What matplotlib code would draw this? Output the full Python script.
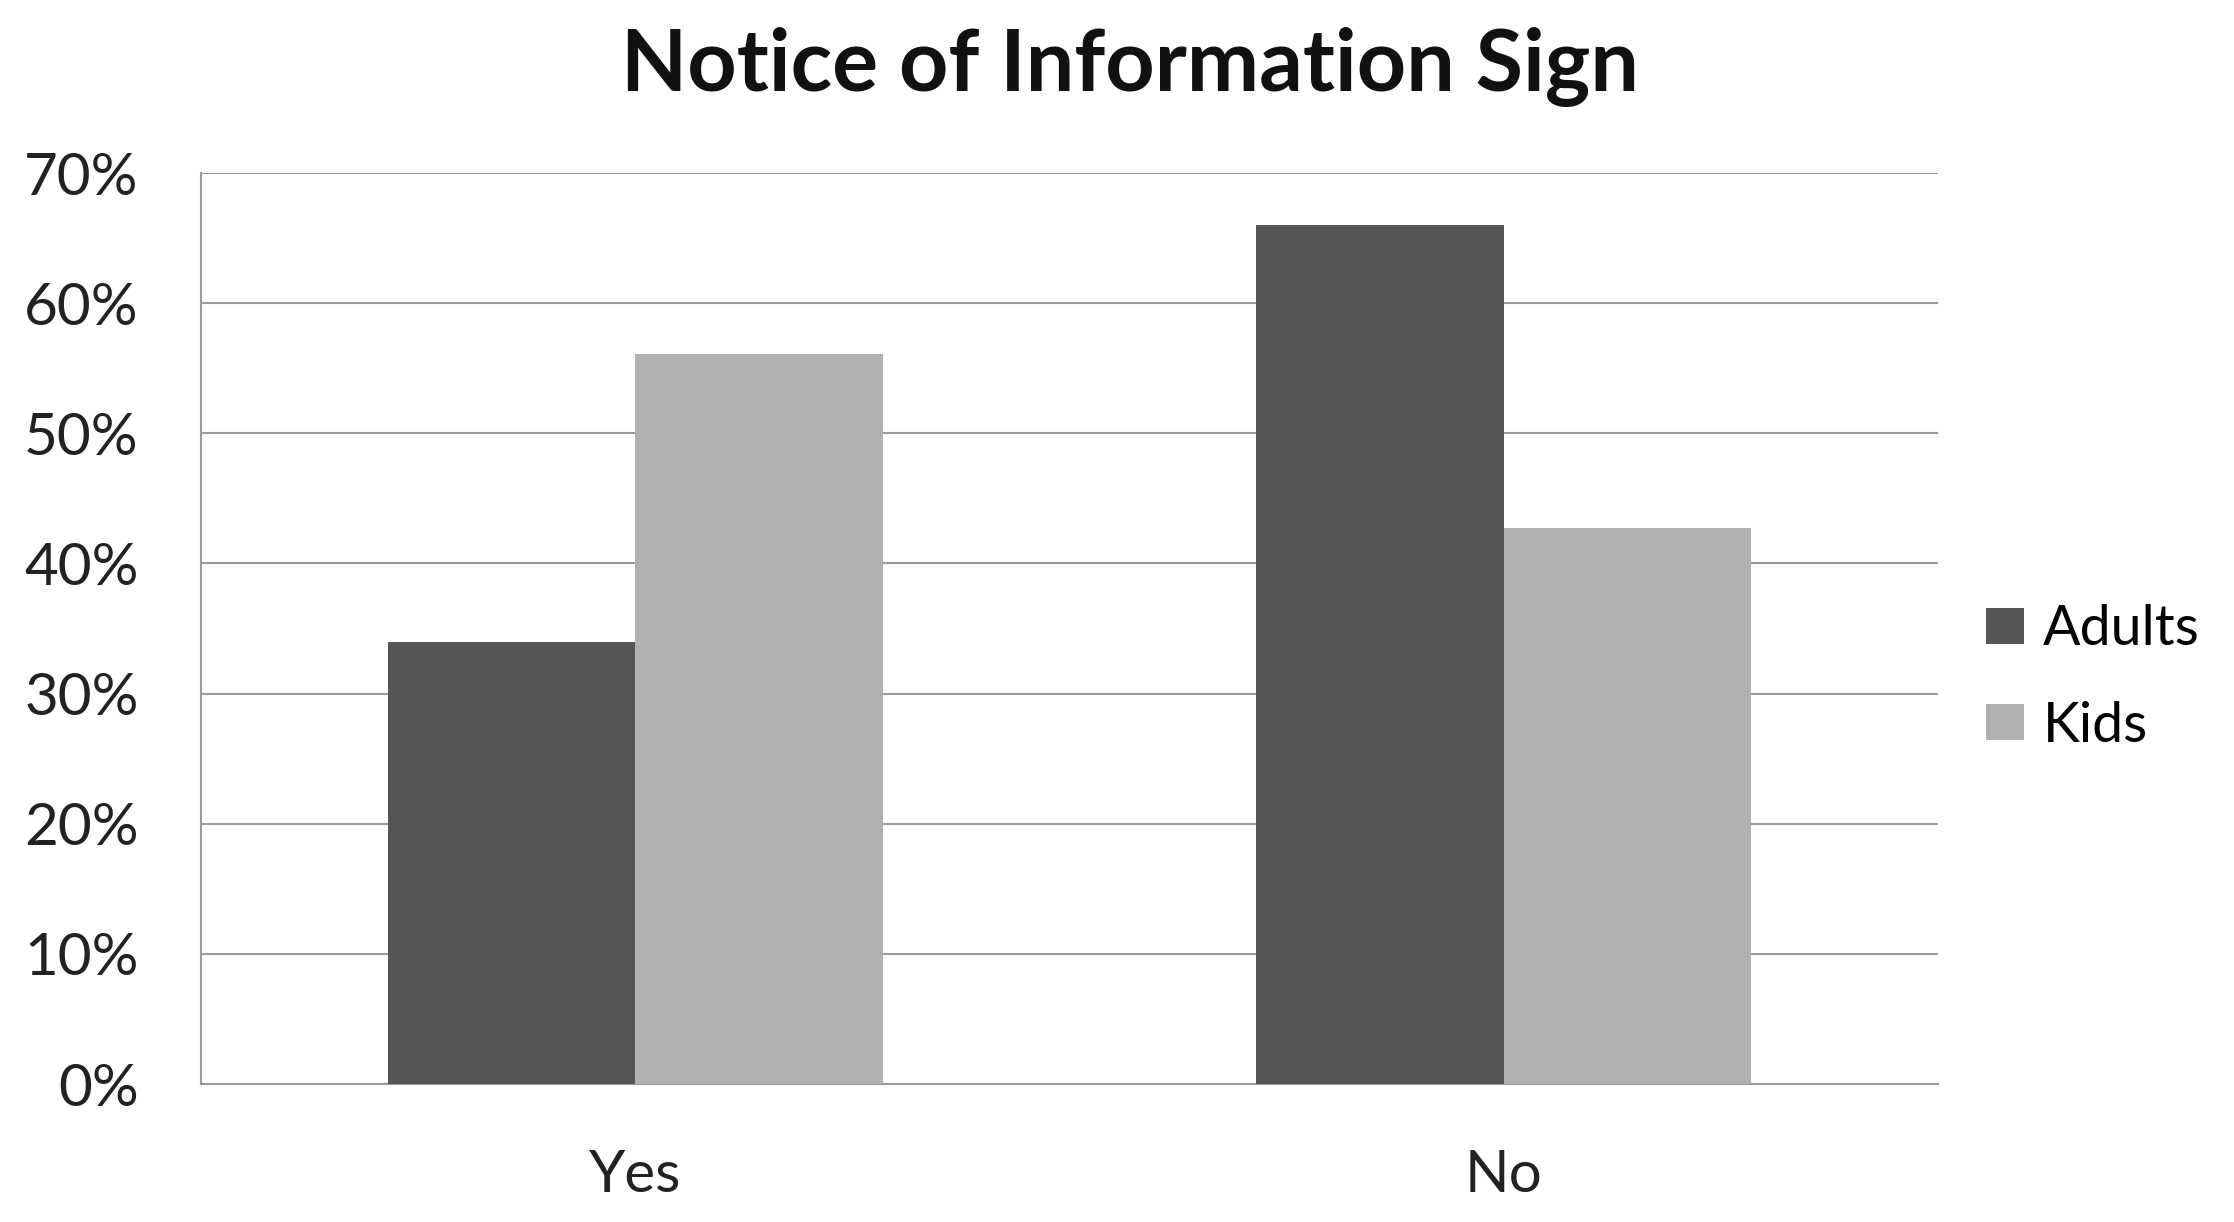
import matplotlib.pyplot as plt
import numpy as np

# values (percent)
categories = ['Yes', 'No']
adults = [34, 66]
kids = [56.1, 42.7]
y_ticks = [0, 10, 20, 30, 40, 50, 60, 70]

plt.rcParams['font.family'] = ['Lato', 'DejaVu Sans']

fig = plt.figure(figsize=(22.34, 12.22), dpi=100)
ax = fig.add_axes([0.09, 0.1129, 0.7775, 0.7455])

x = np.arange(len(categories))
w = 0.285
ax.bar(x - w / 2, adults, w, color='#555555', label='Adults', zorder=3)
ax.bar(x + w / 2, kids, w, color='#b0b0b0', label='Kids', zorder=3)

ax.set_xlim(-0.5, 1.5)
ax.set_ylim(0, 70)
ax.set_yticks(y_ticks)
ax.set_yticklabels([f'{t}%' for t in y_ticks])
ax.set_xticks(x)
ax.set_xticklabels(categories)
ax.tick_params(axis='both', length=0, labelsize=42, colors='#222222')
ax.tick_params(axis='y', pad=45)
ax.tick_params(axis='x', pad=47)

ax.yaxis.grid(True, color='#9a9a9a', linewidth=1.5, zorder=0)
for s in ['top', 'right']:
    ax.spines[s].set_visible(False)
for s in ['left', 'bottom']:
    ax.spines[s].set_color('#9a9a9a')
    ax.spines[s].set_linewidth(1.5)

fig.text(0.506, 0.945, 'Notice of Information Sign', ha='center', va='center',
         fontsize=62, fontweight='bold', color='#111111')

ax.legend(loc='center left', bbox_to_anchor=(0.8765, 0.445),
          bbox_transform=fig.transFigure, frameon=False, borderpad=0,
          fontsize=40, handlelength=0.68, handleheight=0.62, handletextpad=0.35,
          labelspacing=0.82)

fig.savefig('out.png', dpi=100)
